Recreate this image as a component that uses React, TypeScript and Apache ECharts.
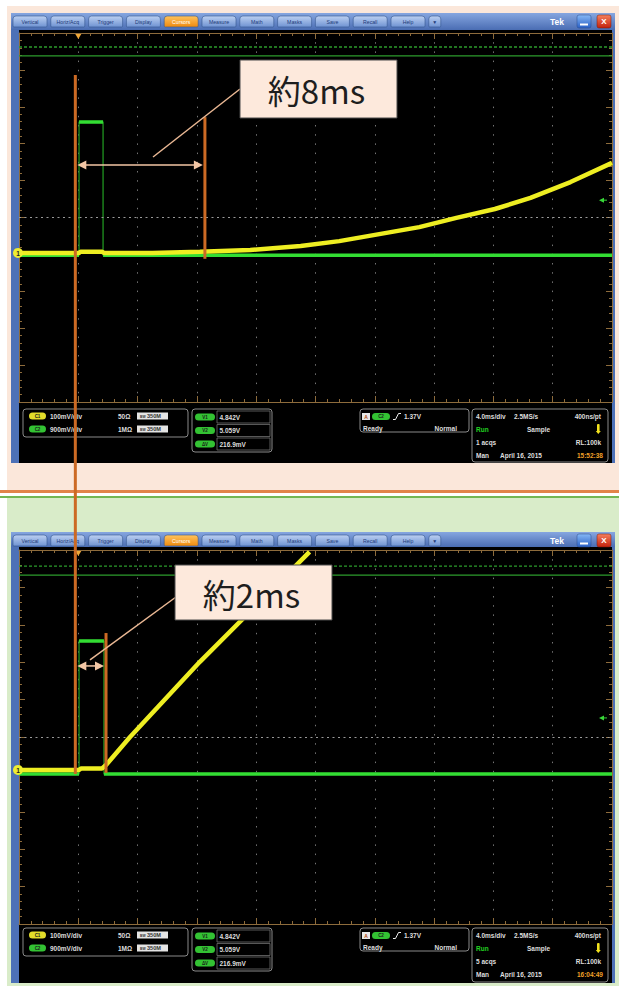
import React, { useEffect, useRef } from "react";
import * as echarts from "echarts";

// ---- horizontal / vertical scale (4.0 ms/div, 10 x 10 graticule, trigger at 0 ms) ----
const timeMinMs = -4;
const timeMaxMs = 36;
const timePerDivMs = 4;
const divMin = -5;
const divMax = 5;

const menuTabs = ["Vertical", "Horiz/Acq", "Trigger", "Display", "Cursors", "Measure", "Math", "Masks", "Save", "Recall", "Help", "▼"];
const activeTab = "Cursors";

// ---- upper capture: CH1 (yellow) and CH2 (green), in divisions ----
const ch1UpperMs = [-4, 0.05, 0.15, 1.6, 1.75, 5, 8.2, 11.6, 15, 17.6, 20.3, 23, 25.5, 28.1, 30.5, 33.2, 36];
const ch1UpperDiv = [-0.96, -0.96, -0.93, -0.93, -0.96, -0.96, -0.93, -0.88, -0.77, -0.64, -0.45, -0.26, -0.01, 0.23, 0.53, 0.96, 1.48];
const ch2UpperMs = [-4, 0.05, 0.05, 1.67, 1.67, 36];
const ch2UpperDiv = [-1.02, -1.02, 2.59, 2.59, -1.02, -1.02];
const upperRefDiv = [4.62, 4.38];

// ---- lower capture ----
const ch1LowerMs = [-4, 0.05, 0.2, 1.6, 1.87, 3.49, 8.2, 15.6];
const ch1LowerDiv = [-0.88, -0.88, -0.84, -0.84, -0.75, 0, 2.01, 4.95];
const ch2LowerMs = [-4, 0.05, 0.05, 1.73, 1.73, 36];
const ch2LowerDiv = [-0.99, -0.99, 2.57, 2.57, -0.99, -0.99];
const lowerRefDiv = [4.57, 4.33];

// markers per capture
const ch1OffsetDiv = [-0.96, -0.88];
const triggerLevelDiv = [0.47, 0.51];

// cursors (ms) : A is shared by both captures
const cursorAMs = -0.2;
const cursorASpanDiv = [3.86, -0.99]; // top end on upper capture, bottom end on lower capture
const cursorBMs = [8.54, 1.87];
const cursorBSpanDiv = [[2.72, -1.12], [2.78, -0.96]];
const arrowDiv = [1.42, 1.9];
const leaderAnchorMs = [5.04, 0.79];
const leaderAnchorDiv = [1.64, 2.06];
const calloutLabels = ["約8ms", "約2ms"];

// ---- readouts ----
const chanNames = ["C1", "C2"];
const chanScale = ["100mV/div", "900mV/div"];
const chanTermination = ["50Ω", "1MΩ"];
const chanBandwidth = ["350M", "350M"];
const cursorNames = ["V1", "V2", "ΔV"];
const cursorValues = ["4.842V", "5.059V", "216.9mV"];
const triggerSource = "C2";
const triggerLevel = "1.37V";
const triggerState = ["Ready", "Normal"];
const horizReadout = ["4.0ms/div", "2.5MS/s", "400ns/pt"];
const acqMode = ["Run", "Sample"];
const recordLength = "RL:100k";
const acqCounts = ["1 acqs", "5 acqs"];
const acqDate = ["Man", "April 16, 2015"];
const clockTimes = ["15:52:38", "16:04:49"];

// ---- layout ----
const W = 619;
const H = 986;
const gridLeft = 19;
const gridWidth = 593;
const screens = [
  { menuTop: 13, plotTop: 33, plotBottom: 402, bottom: 463, infoBase: 402 },
  { menuTop: 532, plotTop: 550, plotBottom: 924, bottom: 983, infoBase: 921 },
];
const calloutBoxes = [
  { x: 240, y: 60, w: 157, h: 58, leaderEnd: [240, 89] },
  { x: 175, y: 565, w: 157, h: 55, leaderEnd: [176, 597] },
];

const UI_FONT = '"Liberation Sans", Arial, sans-serif';
const CJK_FONT = '"Noto Sans CJK JP", "Noto Sans", sans-serif';
const BORDER = "#8e6c3c";
const YELLOW = "#eeee22";
const GREEN = "#33dd33";
const CURSOR = "#cc6a24";
const ARROW = "#f3c6a5";

const zip = (t: number[], v: number[]) => t.map((x, i) => [x, v[i]]);

// CH2 drawn bright along its flat levels, edges stay thin
function levelSegments(t: number[], v: number[]) {
  const out: any[] = [];
  for (let i = 0; i + 1 < t.length; i += 2) {
    if (i > 0) out.push([t[i], "-"]);
    out.push([t[i], v[i]], [t[i + 1], v[i + 1]]);
  }
  return out;
}

function xAxisFor(gi: number, pos: string, grid: boolean) {
  return {
    type: "value",
    gridIndex: gi,
    position: pos,
    min: timeMinMs,
    max: timeMaxMs,
    interval: timePerDivMs,
    axisLine: { show: true, onZero: false, lineStyle: { color: BORDER, width: 1 } },
    axisTick: { show: true, inside: true, length: 6, lineStyle: { color: BORDER } },
    minorTick: { show: true, splitNumber: 5, length: 3, lineStyle: { color: BORDER } },
    axisLabel: { show: false },
    splitLine: { show: grid, lineStyle: { color: "#747474", type: [1.5, 7.7], width: 1 } },
  };
}

function yAxisFor(gi: number, pos: string) {
  return {
    type: "value",
    gridIndex: gi,
    position: pos,
    min: divMin,
    max: divMax,
    interval: 1,
    axisLine: { show: true, onZero: false, lineStyle: { color: BORDER, width: 1 } },
    axisTick: { show: true, inside: true, length: 6, lineStyle: { color: BORDER } },
    minorTick: { show: true, splitNumber: 5, length: 3, lineStyle: { color: BORDER } },
    axisLabel: { show: false },
    splitLine: { show: false },
  };
}

function captureSeries(gi: number, c1t: number[], c1v: number[], c2t: number[], c2v: number[], refs: number[]) {
  const ax = { xAxisIndex: gi * 2, yAxisIndex: gi * 2 };
  const base = { type: "line", symbol: "none", silent: true, animation: false, ...ax };
  return [
    {
      ...base,
      name: "ref dotted",
      z: 2,
      data: [[timeMinMs, refs[0]], [timeMaxMs, refs[0]]],
      lineStyle: { color: "#2c9c2c", width: 1.3, type: [3, 2] },
      markLine: {
        silent: true,
        symbol: "none",
        label: { show: false },
        lineStyle: { color: "#9a9a9a", type: [2, 3.5], width: 1 },
        data: [{ yAxis: 0 }],
      },
    },
    {
      ...base,
      name: "ref",
      z: 2,
      data: [[timeMinMs, refs[1]], [timeMaxMs, refs[1]]],
      lineStyle: { color: "#2c9c2c", width: 1.3 },
    },
    { ...base, name: "CH2 edges", z: 3, data: zip(c2t, c2v), lineStyle: { color: "#22a022", width: 1.2 } },
    { ...base, name: "CH2", z: 4, data: levelSegments(c2t, c2v), lineStyle: { color: GREEN, width: 3.5 } },
    { ...base, name: "CH1", z: 5, data: zip(c1t, c1v), lineStyle: { color: YELLOW, width: 4.5 } },
  ];
}

function buildOption() {
  return {
    animation: false,
    backgroundColor: "#ffffff",
    grid: screens.map((s) => ({
      left: gridLeft,
      top: s.plotTop,
      width: gridWidth,
      height: s.plotBottom - s.plotTop,
      show: false,
      containLabel: false,
      outerBoundsMode: "none",
    })),
    xAxis: [xAxisFor(0, "bottom", true), xAxisFor(0, "top", false), xAxisFor(1, "bottom", true), xAxisFor(1, "top", false)],
    yAxis: [yAxisFor(0, "left"), yAxisFor(0, "right"), yAxisFor(1, "left"), yAxisFor(1, "right")],
    series: [
      ...captureSeries(0, ch1UpperMs, ch1UpperDiv, ch2UpperMs, ch2UpperDiv, upperRefDiv),
      ...captureSeries(1, ch1LowerMs, ch1LowerDiv, ch2LowerMs, ch2LowerDiv, lowerRefDiv),
    ],
  };
}

const vgrad = (a: string, b: string) =>
  new echarts.graphic.LinearGradient(0, 0, 0, 1, [
    { offset: 0, color: a },
    { offset: 1, color: b },
  ]);

function buildGraphics(chart: any) {
  const els: any[] = [];
  const px = (si: number, t: number, v: number) => chart.convertToPixel({ seriesIndex: si }, [t, v]) as number[];

  const rect = (x: number, y: number, w: number, h: number, fill: any, z: number, o: any = {}) =>
    els.push({
      type: "rect",
      silent: true,
      z,
      shape: { x, y, width: w, height: h, r: o.r ?? 0 },
      style: { fill, stroke: o.stroke ?? "none", lineWidth: o.lw ?? 0 },
    });
  const text = (x: number, y: number, s: string, o: any = {}) =>
    els.push({
      type: "text",
      silent: true,
      z: o.z ?? -40,
      x,
      y,
      style: {
        text: s,
        fill: o.fill ?? "#dedede",
        fontSize: o.size ?? 6.5,
        fontFamily: o.family ?? UI_FONT,
        fontWeight: o.weight ?? "bold",
        textAlign: o.align ?? "left",
        align: o.align ?? "left",
        textVerticalAlign: "middle",
        verticalAlign: "middle",
      },
    });
  const line = (x1: number, y1: number, x2: number, y2: number, stroke: string, lw: number, z: number) =>
    els.push({ type: "line", silent: true, z, shape: { x1, y1, x2, y2 }, style: { stroke, lineWidth: lw } });
  const poly = (pts: number[][], fill: string, z: number) =>
    els.push({ type: "polygon", silent: true, z, shape: { points: pts }, style: { fill } });
  const pill = (x: number, y: number, w: number, fill: string, label: string) => {
    rect(x, y - 3.5, w, 7, fill, -45, { r: 3.5 });
    text(x + w / 2, y, label, { size: 4.5, fill: "#1a1a1a", align: "center", z: -44 });
  };
  const panel = (x: number, y: number, w: number, h: number) =>
    rect(x, y, w, h, "#000", -50, { r: 3, stroke: "#8a8a8a", lw: 1 });

  // page
  rect(0, 0, W, H, "#ffffff", -100);
  rect(7, 6, W - 7, 484, "#fbe7da", -99);
  rect(0, 490, W, 3, "#e2834a", -99);
  rect(0, 496, W, 2, "#74b654", -99);
  rect(7, 498, W - 7, H - 498, "#d9ecc9", -99);

  screens.forEach((s, k) => {
    const ch1Index = k * 5 + 4;
    // window frame, menu bar and screen
    rect(11, s.menuTop, 604, s.bottom - s.menuTop, "#4d71b7", -90);
    rect(11, s.menuTop, 604, s.plotTop - s.menuTop - 3, vgrad("#86a6e0", "#4a6db3"), -89);
    rect(gridLeft, s.plotTop - 3, gridWidth, s.bottom - s.plotTop + 3, "#000000", -88);

    menuTabs.forEach((name, i) => {
      const x = 13 + i * 37.8;
      const w = name === "▼" ? 12 : 34;
      const on = name === activeTab;
      rect(x, s.menuTop + 3, w, 11, on ? vgrad("#ffc35c", "#ee8a0e") : vgrad("#bcd0f2", "#6f93d2"), -80, {
        r: [3, 3, 1, 1],
        stroke: "#34558f",
        lw: 0.6,
      });
      text(x + w / 2, s.menuTop + 8.7, name, {
        size: name === "▼" ? 5 : 5.2,
        fill: on ? "#ffffff" : "#1d3a78",
        weight: "normal",
        align: "center",
        z: -79,
      });
    });
    text(557, s.menuTop + 9, "Tek", { size: 8.5, fill: "#ffffff", align: "center", z: -79 });
    rect(577, s.menuTop + 2, 14, 13, vgrad("#86b8f6", "#2a60c6"), -80, { r: 2, stroke: "#2a4a8a", lw: 0.5 });
    rect(580, s.menuTop + 10.5, 8, 2, "#ffffff", -79);
    rect(597, s.menuTop + 2, 14, 13, vgrad("#f6805e", "#c2210c"), -80, { r: 2, stroke: "#7a1a0a", lw: 0.5 });
    text(604, s.menuTop + 8.7, "X", { size: 8, fill: "#ffffff", align: "center", z: -79 });

    // ---- readout panels ----
    const b = s.infoBase;
    panel(23, b + 7, 165, 28);
    chanNames.forEach((c, i) => {
      const y = b + 14 + i * 13;
      pill(29, y, 17, i === 0 ? "#e2dc2a" : "#33c233", c);
      text(50, y, chanScale[i]);
      text(118, y, chanTermination[i]);
      rect(137, y - 3.5, 31, 7, "#e4e4e4", -45);
      text(140, y + 0.5, "BW", { size: 3.4, fill: "#333", z: -44 });
      text(147, y, chanBandwidth[i], { size: 5.6, fill: "#333", z: -44 });
    });

    panel(192, b + 7, 80, 43);
    cursorNames.forEach((c, i) => {
      const y = b + 15 + i * 13.5;
      pill(195, y, 20, "#33c233", c);
      rect(217, y - 6, 53, 12, "none", -45, { stroke: "#6e6e6e", lw: 0.8 });
      text(219.5, y, cursorValues[i]);
    });

    panel(360, b + 7, 109, 23);
    const t1 = b + 14.5;
    rect(362, t1 - 3.5, 8, 7, "#e8e8e8", -45);
    text(366, t1, "A", { size: 5, fill: "#b04a10", align: "center", z: -44 });
    pill(372, t1, 18, "#33c233", triggerSource);
    els.push({
      type: "polyline",
      silent: true,
      z: -44,
      shape: { points: [[393, t1 + 3], [395.5, t1 + 3], [398.5, t1 - 3], [401, t1 - 3]] },
      style: { stroke: "#eeeeee", lineWidth: 1, fill: "none" },
    });
    text(404, t1, triggerLevel);
    text(363, b + 26, triggerState[0]);
    text(457, b + 26, triggerState[1], { align: "right" });

    panel(472, b + 7, 136, s.bottom - b - 8);
    const r = [b + 14, b + 27, b + 40, b + 53];
    text(476, r[0], horizReadout[0]);
    text(514, r[0], horizReadout[1]);
    text(601, r[0], horizReadout[2], { align: "right" });
    text(476, r[1], acqMode[0], { fill: "#22d422" });
    text(527, r[1], acqMode[1]);
    rect(597, r[1] - 5, 2.6, 8, "#f2e21e", -45, { r: 1 });
    poly([[595.8, r[1] + 2], [600.8, r[1] + 2], [598.3, r[1] + 5]], "#f2e21e", -45);
    text(476, r[2], acqCounts[k]);
    text(601, r[2], recordLength, { align: "right" });
    text(476, r[3], acqDate[0]);
    text(500, r[3], acqDate[1]);
    text(603, r[3], clockTimes[k], { align: "right", fill: "#f0a028" });

    // ---- on-screen markers ----
    const g = px(ch1Index, timeMinMs, ch1OffsetDiv[k]);
    els.push({ type: "circle", silent: true, z: 20, shape: { cx: g[0] - 1, cy: g[1], r: 5 }, style: { fill: "#eeee30" } });
    text(g[0] - 1, g[1] + 0.3, "1", { size: 6.5, fill: "#222", align: "center", z: 21 });

    const tp = px(ch1Index, 0, divMax);
    poly([[tp[0] - 3, tp[1] + 1], [tp[0] + 3, tp[1] + 1], [tp[0], tp[1] + 6]], "#f0a838", 20);

    const tl = px(ch1Index, timeMaxMs, triggerLevelDiv[k]);
    poly([[tl[0] - 13, tl[1]], [tl[0] - 8, tl[1] - 2.5], [tl[0] - 8, tl[1] + 2.5]], "#38d838", 20);
    line(tl[0] - 9, tl[1], tl[0] - 5, tl[1], "#38d838", 1, 20);
  });

  // ---- cursors and callouts ----
  const aTop = px(4, cursorAMs, cursorASpanDiv[0]);
  const aBot = px(9, cursorAMs, cursorASpanDiv[1]);
  line(aTop[0], aTop[1], aBot[0], aBot[1], CURSOR, 3, 60);

  [0, 1].forEach((k) => {
    const si = k * 5 + 4;
    const bTop = px(si, cursorBMs[k], cursorBSpanDiv[k][0]);
    const bBot = px(si, cursorBMs[k], cursorBSpanDiv[k][1]);
    line(bTop[0], bTop[1], bBot[0], bBot[1], CURSOR, 3, 60);

    const ay = px(si, cursorAMs, arrowDiv[k])[1];
    const x1 = aTop[0] + 2;
    const x2 = bTop[0] - 2;
    line(x1 + 8, ay, x2 - 8, ay, ARROW, 1.5, 61);
    poly([[x1, ay], [x1 + 9, ay - 4.5], [x1 + 9, ay + 4.5]], ARROW, 61);
    poly([[x2, ay], [x2 - 9, ay - 4.5], [x2 - 9, ay + 4.5]], ARROW, 61);

    const box = calloutBoxes[k];
    const an = px(si, leaderAnchorMs[k], leaderAnchorDiv[k]);
    line(an[0], an[1], box.leaderEnd[0], box.leaderEnd[1], "#eab894", 1.5, 61);
    rect(box.x, box.y, box.w, box.h, "#fde9dc", 62, { stroke: "#4a4a4a", lw: 1 });
    text(box.x + box.w / 2 - 2, box.y + box.h / 2 + 1, calloutLabels[k], {
      size: 33,
      family: CJK_FONT,
      weight: "normal",
      fill: "#1e1e1e",
      align: "center",
      z: 63,
    });
  });

  return els;
}

export default function App() {
  const ref = useRef<HTMLDivElement>(null);
  useEffect(() => {
    if (!ref.current) return;
    const chart = echarts.init(ref.current, null, { renderer: "svg", width: W, height: H });
    chart.setOption(buildOption());
    chart.setOption({ graphic: { elements: buildGraphics(chart) } });
    return () => chart.dispose();
  }, []);
  return <div ref={ref} style={{ position: "absolute", left: 0, top: 0, width: W, height: H }} />;
}
